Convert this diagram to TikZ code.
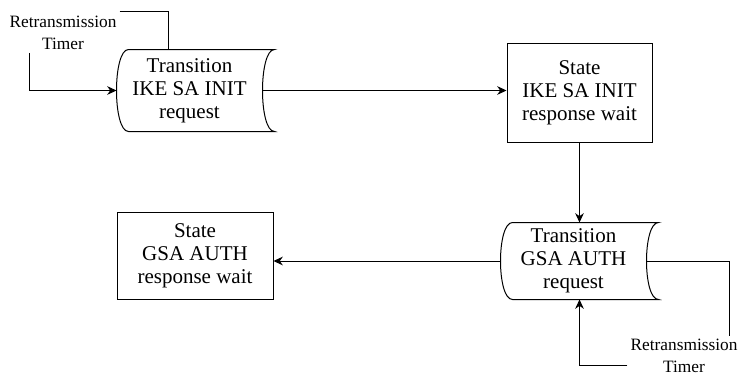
\documentclass[tikz,border=0pt]{standalone}
\usepackage{fontspec}
\setmainfont{Liberation Serif}
\usetikzlibrary{arrows.meta}
\begin{document}
\begin{tikzpicture}[x=0.75pt,y=0.75pt,line width=0.75pt,>={Stealth[length=7pt,width=6.5pt]},
    state/.style={draw,inner sep=0pt,align=center,font=\fontsize{15.75}{17.3}\selectfont},
    trans/.style={inner sep=0pt,minimum width=108.75pt,align=center,font=\fontsize{15.75}{17.3}\selectfont},
    retx/.style={inner sep=2pt,align=center,font=\fontsize{13}{16.5}\selectfont}]
    \useasboundingbox (0,0) rectangle (739,376);
    \node[trans,minimum height=60.75pt] (tike) at (189.5,285.5) {Transition\\IKE SA INIT\\request};
    \node[state,minimum width=108.75pt,minimum height=74.25pt] (sike) at (579.5,283.5) {State\\IKE SA INIT\\response wait};
    \node[trans,minimum height=57pt] (tgsa) at (573.5,115) {Transition\\GSA AUTH\\request};
    \node[state,minimum width=117pt,minimum height=65.25pt] (sgsa) at (195,120.5) {State\\GSA AUTH\\response wait};
    \node[retx] (rt1) at (63,343) {Retransmission\\Timer};
    \node[retx] (rt2) at (684,20) {Retransmission\\Timer};
    \foreach \n in {tike,tgsa}
      \draw ([xshift=9pt]\n.north east) -- ([xshift=9pt]\n.north west)
        .. controls ([xshift=-3pt]\n.north west) and ([xshift=-3pt]\n.south west) .. ([xshift=9pt]\n.south west)
        -- ([xshift=9pt]\n.south east)
        .. controls ([xshift=-3pt]\n.south east) and ([xshift=-3pt]\n.north east) .. cycle;
    \draw ([yshift=1pt]rt1.north east) -| ([xshift=-16pt]tike.north);
    \draw[->] ([xshift=-25pt]rt1.south) |- (tike.west);
    \draw[->] (tike.east) -- (sike.west |- tike.east);
    \draw[->] (sike.south) -- (sike.south |- tgsa.north);
    \draw[->] (tgsa.west) -- (sgsa.east |- tgsa.west);
    \draw (tgsa.east) -| ([xshift=34pt]rt2.north);
    \draw[->] ([yshift=-7pt]rt2.west) -| (sike.south |- tgsa.south);
  \end{tikzpicture}
\end{document}
